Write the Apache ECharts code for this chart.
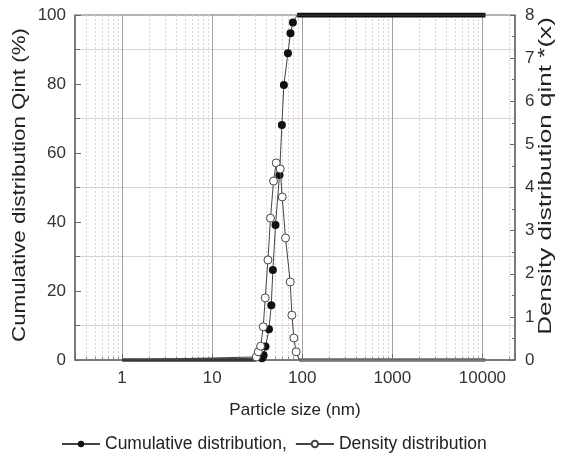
<!DOCTYPE html>
<html><head><meta charset="utf-8">
<script src="https://cdn.jsdelivr.net/npm/echarts@6/dist/echarts.min.js"></script>
<style>html,body{margin:0;padding:0;background:#fff}#c{width:563px;height:460px}</style>
</head><body><div id="c"></div>
<script>
// Cumulative distribution (left axis, %)
const cumX = [1, 35.7, 37.2, 39.1, 42.7, 45.3, 47.2, 50.5, 55.9, 59.4, 62.5, 69.3, 74.0, 78.7, 87.8, 10800];
const cumY = [0, 0.5, 1.4, 3.9, 8.9, 15.9, 26.1, 39.1, 53.6, 68.1, 79.7, 88.9, 94.7, 97.8, 100, 100];
// Density distribution (right axis)
const denX = [1, 30.9, 32.5, 34.5, 36.9, 38.8, 41.6, 44.4, 48.0, 51.4, 56.9, 59.9, 65.2, 73.5, 76.7, 80.7, 85.5, 92.4, 10800];
const denY = [0, 0.07, 0.19, 0.32, 0.77, 1.44, 2.32, 3.29, 4.15, 4.57, 4.43, 3.78, 2.83, 1.81, 1.04, 0.51, 0.19, 0, 0];
const xTickLabels = ['1', '10', '100', '1000', '10000'];
const leftTicks = [0, 20, 40, 60, 80, 100];
const rightTicks = [0, 1, 2, 3, 4, 5, 6, 7, 8];
const seriesNames = ['Cumulative distribution,', 'Density distribution'];
const leftTitle = 'Cumulative distribution Qint (%)';
const rightTitle = 'Density distribution qint *(x)';
const xTitle = 'Particle size (nm)';

function pts(xs, ys, plainIdx) {
  return xs.map((x, i) => plainIdx.includes(i) ? { value: [x, ys[i]], symbol: 'none' } : [x, ys[i]]);
}
const nC = cumX.length, nD = denX.length;
const font = 'Liberation Sans, Arial, sans-serif';
const chart = echarts.init(document.getElementById('c'), null, { renderer: 'canvas' });
chart.setOption({
  animation: false,
  backgroundColor: '#fff',
  textStyle: { fontFamily: font },
  grid: { left: 75, right: 48, top: 15, bottom: 100, show: true, borderColor: '#6e6868', borderWidth: 1, outerBoundsMode: 'none', containLabel: false },
  legend: {
    data: seriesNames, top: 430, left: 56, itemWidth: 38, itemHeight: 8, itemGap: 8,
    textStyle: { fontSize: 17.5, color: '#222', fontFamily: font }
  },
  graphic: [
    { type: 'text', x: 20, y: 185, rotation: Math.PI / 2, scaleX: 1.24, silent: true,
      style: { text: leftTitle, font: '18px ' + font, fill: '#222', align: 'center', verticalAlign: 'middle' } },
    { type: 'text', x: 546, y: 176, rotation: Math.PI / 2, scaleX: 1.45, silent: true,
      style: { text: rightTitle, font: '18px ' + font, fill: '#222', align: 'center', verticalAlign: 'middle' } }
  ],
  xAxis: {
    type: 'log', logBase: 10, min: 0.3, max: 23000,
    name: xTitle, nameLocation: 'middle', nameGap: 42,
    nameTextStyle: { fontSize: 17, color: '#222', fontFamily: font },
    axisLine: { show: true, lineStyle: { color: '#6e6868', width: 1.5 } },
    axisTick: { show: true, inside: true, length: 6, lineStyle: { color: '#6e6868' } },
    minorTick: { show: true, splitNumber: 9, length: 3, lineStyle: { color: '#8a8282' } },
    splitLine: { show: true, lineStyle: { color: '#a8a0a0', width: 1 } },
    minorSplitLine: { show: true, lineStyle: { color: '#d6d2d6', width: 1, type: [2, 2] } },
    axisLabel: {
      fontSize: 17, color: '#333', margin: 10, fontFamily: font,
      formatter: v => { const s = String(Math.round(v)); return (xTickLabels.includes(s) && Math.abs(v - Math.round(v)) < 1e-6) ? s : ''; }
    }
  },
  yAxis: [{
    type: 'value', min: leftTicks[0], max: leftTicks[leftTicks.length - 1], interval: 20,
    axisLine: { show: true, lineStyle: { color: '#6e6868', width: 1.5 } },
    axisTick: { show: true, inside: true, length: 6, lineStyle: { color: '#6e6868' } },
    minorTick: { show: true, splitNumber: 2, length: 5, lineStyle: { color: '#6e6868' } },
    splitLine: { show: false },
    minorSplitLine: { show: true, lineStyle: { color: '#dcd2d2', width: 1 } },
    axisLabel: { fontSize: 17, color: '#333', margin: 9, fontFamily: font }
  }, {
    type: 'value', position: 'right', min: rightTicks[0], max: rightTicks[rightTicks.length - 1], interval: 1,
    axisLine: { show: true, lineStyle: { color: '#6e6868', width: 1.5 } },
    axisTick: { show: true, inside: true, length: 5, lineStyle: { color: '#6e6868' } },
    minorTick: { show: true, splitNumber: 2, length: 3, lineStyle: { color: '#6e6868' } },
    splitLine: { show: false },
    axisLabel: { fontSize: 17, color: '#333', margin: 10, fontFamily: font }
  }],
  series: [
    { // thick dense-marker bands (flat parts)
      type: 'line', yAxisIndex: 1, silent: true, symbol: 'none', z: 2,
      data: [[denX[0], denY[0]], [denX[1], denY[0]]], lineStyle: { color: '#6a6a6a', width: 4 }
    },
    {
      type: 'line', yAxisIndex: 1, silent: true, symbol: 'none', z: 2,
      data: [[denX[nD - 2], denY[nD - 2]], [denX[nD - 1], denY[nD - 1]]], lineStyle: { color: '#8a8a8a', width: 4 }
    },
    {
      type: 'line', yAxisIndex: 0, silent: true, symbol: 'none', z: 2,
      data: [[cumX[0], cumY[0]], [cumX[1], cumY[0]]], lineStyle: { color: '#333', width: 2 }
    },
    {
      type: 'line', yAxisIndex: 0, silent: true, symbol: 'none', z: 2,
      data: [[cumX[nC - 2], cumY[nC - 2]], [cumX[nC - 1], cumY[nC - 1]]], lineStyle: { color: '#111', width: 5 }
    },
    {
      name: seriesNames[0], type: 'line', yAxisIndex: 0, z: 3,
      data: pts(cumX, cumY, [0, nC - 2, nC - 1]),
      symbol: 'circle', symbolSize: 8,
      itemStyle: { color: '#111', borderColor: '#111', borderWidth: 0 },
      lineStyle: { color: '#444', width: 1 }
    },
    {
      name: seriesNames[1], type: 'line', yAxisIndex: 1, z: 4,
      data: pts(denX, denY, [0, nD - 2, nD - 1]),
      symbol: 'circle', symbolSize: 8,
      itemStyle: { color: '#fff', borderColor: '#444', borderWidth: 1 },
      lineStyle: { color: '#444', width: 1 }
    }
  ]
});
</script></body></html>
